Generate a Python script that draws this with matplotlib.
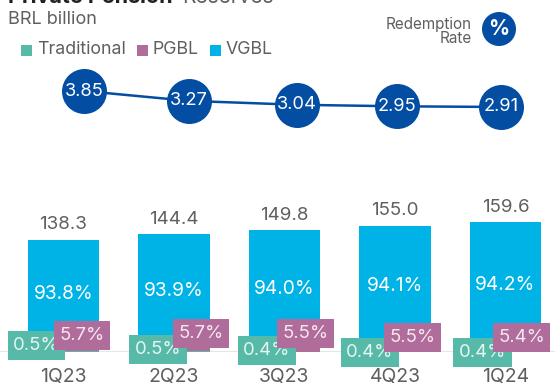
import matplotlib
matplotlib.use("Agg")
import matplotlib.pyplot as plt
from matplotlib.patches import Ellipse, Rectangle

quarters = ["1Q23", "2Q23", "3Q23", "4Q23", "1Q24"]
totals = [138.3, 144.4, 149.8, 155.0, 159.6]
traditional = [0.5, 0.5, 0.4, 0.4, 0.4]
pgbl = [5.7, 5.7, 5.5, 5.5, 5.4]
vgbl = [93.8, 93.9, 94.0, 94.1, 94.2]
rates = [3.85, 3.27, 3.04, 2.95, 2.91]

# badge and bubble placement in pixels from the bar foot, not data
trad_offset = [(-27, 6.5), (-16, 2.5), (-17.5, 1.5), (-25, -0.5), (-23, -0.5)]
pgbl_offset = [(18.5, 16.5), (27, 18.5), (21, 18.5), (17.5, 14.5), (16, 14.5)]
rate_pos = [0.186, 1.136, 2.113, 3.018, 3.959]

TEAL = "#57baa8"
PURPLE = "#b06c9a"
CYAN = "#00b3e6"
NAVY = "#034ea2"
GREY = "#5f5f5f"

W, H = 555, 387
X0, STEP = 63.5, 110.5
plt.rcParams["font.family"] = ["Inter", "DejaVu Sans"]
fig = plt.figure(figsize=(W / 100, H / 100), dpi=100)

ax = fig.add_axes([0, 35 / H, 1, 152 / H])
ax.set_xlim(-X0 / STEP, (W - X0) / STEP)
ax.set_ylim(0, 152 / 0.813)
ax.axis("off")
ax.axhline(0, color="#e6e6e6", lw=1.5, zorder=1)

xs = list(range(len(quarters)))
seg_t = [t * p / 100 for t, p in zip(totals, traditional)]
seg_p = [t * p / 100 for t, p in zip(totals, pgbl)]
seg_v = [t * p / 100 for t, p in zip(totals, vgbl)]
bot_v = [a + b for a, b in zip(seg_t, seg_p)]
ax.bar(xs, seg_t, 0.645, color=TEAL, zorder=2)
ax.bar(xs, seg_p, 0.645, bottom=seg_t, color=PURPLE, zorder=2)
ax.bar(xs, seg_v, 0.645, bottom=bot_v, color=CYAN, zorder=2)

for i in xs:
    ax.annotate(f"{totals[i]:.1f}", (i, totals[i]), xytext=(0, 15), textcoords="offset pixels",
                ha="center", va="center", fontsize=13.5, color=GREY)
    ax.text(i, totals[i] * 0.52, f"{vgbl[i]:.1f}%", ha="center", va="center",
            fontsize=13.8, color="white", zorder=3)
    ax.annotate(f"{traditional[i]:.1f}%", (i, 0), xytext=trad_offset[i], textcoords="offset pixels",
                ha="center", va="center", fontsize=13.3, color="#e8f5f2", zorder=4,
                bbox=dict(boxstyle="square,pad=0.3", fc=TEAL, ec="none"))
    ax.annotate(f"{pgbl[i]:.1f}%", (i, 0), xytext=pgbl_offset[i], textcoords="offset pixels",
                ha="center", va="center", fontsize=13.3, color="#f5e8f1", zorder=5,
                bbox=dict(boxstyle="square,pad=0.3", fc=PURPLE, ec="none"))
    ax.annotate(quarters[i], (i, 0), xytext=(0, -25), textcoords="offset pixels",
                ha="center", va="center", fontsize=14, color=GREY, annotation_clip=False)

# line panel, about 17 px per rate unit
lax = fig.add_axes([0, (H - 150) / H, 1, 100 / H])
lax.set_xlim(-X0 / STEP, (W - X0) / STEP)
lax.set_ylim(3.85 - 59 / 17, 3.85 + 41 / 17)
lax.axis("off")
lax.plot(rate_pos, rates, color=NAVY, lw=1.8, marker="o", ms=32.4, mec="none", zorder=2, clip_on=False)
for x, r in zip(rate_pos, rates):
    lax.text(x, r, f"{r:.2f}", ha="center", va="center", color="white", fontsize=13.2, zorder=3)

fig.text(8 / W, 1 - 20 / H, "BRL billion", fontsize=13, color=GREY, va="center")
fig.text(8 / W, 1 - 3 / H, "Private Pension", fontsize=15.5, color="#222222", fontweight="bold", va="baseline")
fig.text(182 / W, 1 - 3 / H, "Reserves", fontsize=15, color=GREY, va="baseline")

# legend
for sx, col, tx, lab in [(21, TEAL, 37, "Traditional"), (137, PURPLE, 153, "PGBL"), (210, CYAN, 226, "VGBL")]:
    fig.add_artist(Rectangle((sx / W, 1 - 56 / H), 11 / W, 11 / H, transform=fig.transFigure, fc=col, ec="none"))
    fig.text(tx / W, 1 - 50 / H, lab, fontsize=12.8, color=GREY, va="center")

# redemption rate key
fig.text(472 / W, 1 - 31.5 / H, "Redemption\nRate", fontsize=11, color=GREY, ha="right", va="center", linespacing=0.95)
fig.add_artist(Ellipse((499 / W, 1 - 29 / H), 34 / W, 34 / H, transform=fig.transFigure, fc=NAVY, ec="none"))
fig.text(499 / W, 1 - 29 / H, "%", fontsize=15, color="white", fontweight="bold", ha="center", va="center")

fig.savefig("out.png", dpi=100)
